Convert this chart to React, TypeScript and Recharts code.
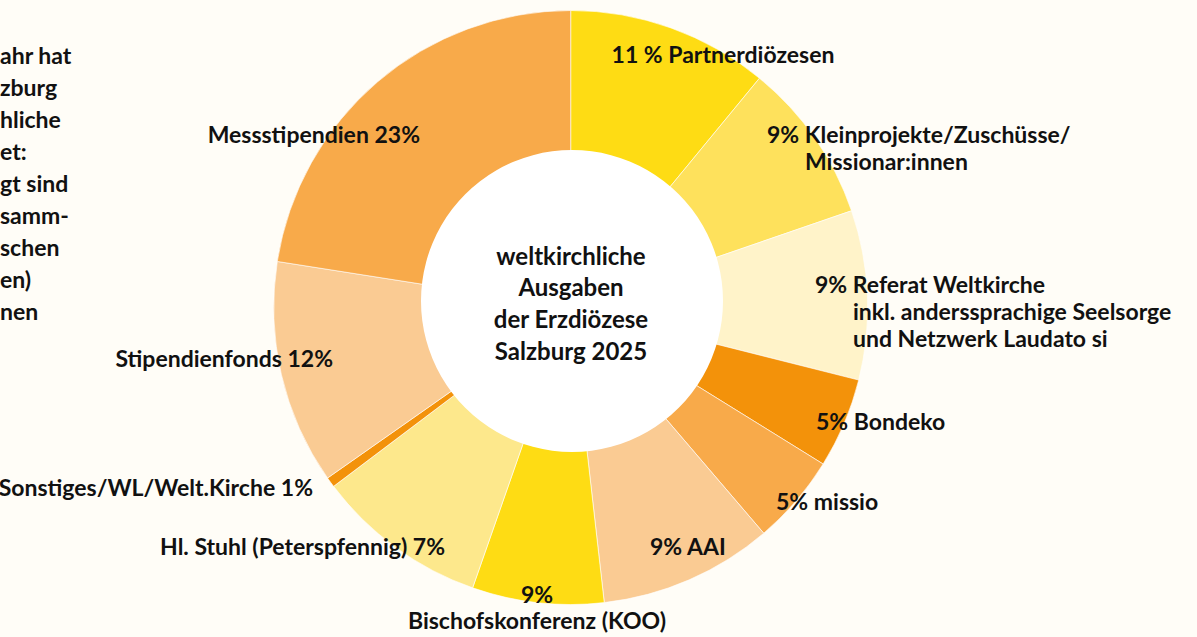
import { PieChart, Pie, Cell } from 'recharts'

// ─── Data (slice sizes, printed labels kept as printed) ─
const CATEGORIES = [
  'Partnerdiözesen',
  'Kleinprojekte/Zuschüsse/Missionar:innen',
  'Referat Weltkirche',
  'Bondeko',
  'missio',
  'AAI',
  'Bischofskonferenz (KOO)',
  'Hl. Stuhl (Peterspfennig)',
  'Sonstiges/WL/Welt.Kirche',
  'Stipendienfonds',
  'Messstipendien',
]

const VALUES = [10.95, 8.75, 9.2, 4.9, 4.9, 9.45, 7.15, 9.35, 0.55, 12.2, 22.5]

const SLICE_COLORS = [
  '#fedc14', '#fee15c', '#fff3c9', '#f3920a', '#f8aa4a', '#facb93',
  '#fedc14', '#fde88c', '#f3920a', '#facb93', '#f8aa4a',
]

// label lines as printed next to each slice
const LABEL_LINES = [
  ['11 % Partnerdiözesen'],
  ['9% Kleinprojekte/Zuschüsse/', 'Missionar:innen'],
  ['9% Referat Weltkirche', 'inkl. anderssprachige Seelsorge', 'und Netzwerk Laudato si'],
  ['5% Bondeko'],
  ['5% missio'],
  ['9% AAI'],
  ['9%', 'Bischofskonferenz (KOO)'],
  ['Hl. Stuhl (Peterspfennig) 7%'],
  ['Sonstiges/WL/Welt.Kirche 1%'],
  ['Stipendienfonds 12%'],
  ['Messstipendien 23%'],
]

const CENTER_TITLE = ['weltkirchliche', 'Ausgaben', 'der Erzdiözese', 'Salzburg 2025']

// intro paragraph that runs off the left edge of the graphic
const SIDE_TEXT = ['ahr hat', 'zburg', 'hliche', 'et:', 'gt sind', 'samm-', 'schen', 'en)', 'nen']

const HOLE = [{ name: 'center', value: 1 }]

const pieData = CATEGORIES.map((name, i) => ({ name, value: VALUES[i] }))

// ─── Layout ──────────────────────────────────────────────────────────────────
const W = 1197
const H = 637
const BG = '#fffdf7'
const FONT = 'Lato, "Noto Sans", sans-serif'
const FS = 23

type Anchor = 'start' | 'middle' | 'end'
// [x, y] per line, anchor per label
const LABEL_POS: { anchor: Anchor; pts: [number, number][] }[] = [
  { anchor: 'middle', pts: [[723, 54]] },
  { anchor: 'start', pts: [[767, 134], [805, 161]] },
  { anchor: 'start', pts: [[815, 284], [853, 311], [853, 338]] },
  { anchor: 'start', pts: [[816, 421]] },
  { anchor: 'start', pts: [[776, 501]] },
  { anchor: 'start', pts: [[650, 546]] },
  { anchor: 'middle', pts: [[537, 594], [537, 620]] },
  { anchor: 'end', pts: [[445, 546]] },
  { anchor: 'end', pts: [[313, 487]] },
  { anchor: 'end', pts: [[333, 358]] },
  { anchor: 'end', pts: [[420, 134]] },
]

export default function App() {
  return (
    <div style={{ position: 'absolute', left: 0, top: 0, width: W, height: H, background: BG, overflow: 'hidden' }}>
      <PieChart width={W} height={H} margin={{ top: 0, right: 0, bottom: 0, left: 0 }}>
        <Pie
          data={pieData}
          dataKey="value"
          nameKey="name"
          cx={570.7}
          cy={307.5}
          outerRadius={297}
          innerRadius={0}
          startAngle={90}
          endAngle={-270}
          stroke="#ffffff"
          strokeWidth={0.6}
          isAnimationActive={false}
        >
          {pieData.map((d, i) => (
            <Cell key={d.name} fill={SLICE_COLORS[i]} />
          ))}
        </Pie>
        {/* white hole sits a little above the ring centre in the original */}
        <Pie
          data={HOLE}
          dataKey="value"
          cx={572}
          cy={301}
          outerRadius={151}
          stroke="none"
          fill="#ffffff"
          isAnimationActive={false}
        />
      </PieChart>
      <svg width={W} height={H} style={{ position: 'absolute', left: 0, top: 0, pointerEvents: 'none' }}>
        <g fontFamily={FONT} fontWeight={700} fontSize={FS} fill="#111111" dominantBaseline="central">
          {LABEL_LINES.map((lines, i) =>
            lines.map((line, j) => (
              <text key={`${i}-${j}`} x={LABEL_POS[i].pts[j][0]} y={LABEL_POS[i].pts[j][1]} textAnchor={LABEL_POS[i].anchor}>
                {line}
              </text>
            ))
          )}
          {CENTER_TITLE.map((line, j) => (
            <text key={line} x={571} y={255 + j * 31.7} textAnchor="middle" fontSize={24}>
              {line}
            </text>
          ))}
          {SIDE_TEXT.map((line, j) => (
            <text key={line} x={0} y={55 + j * 32} textAnchor="start">
              {line}
            </text>
          ))}
        </g>
      </svg>
    </div>
  )
}
